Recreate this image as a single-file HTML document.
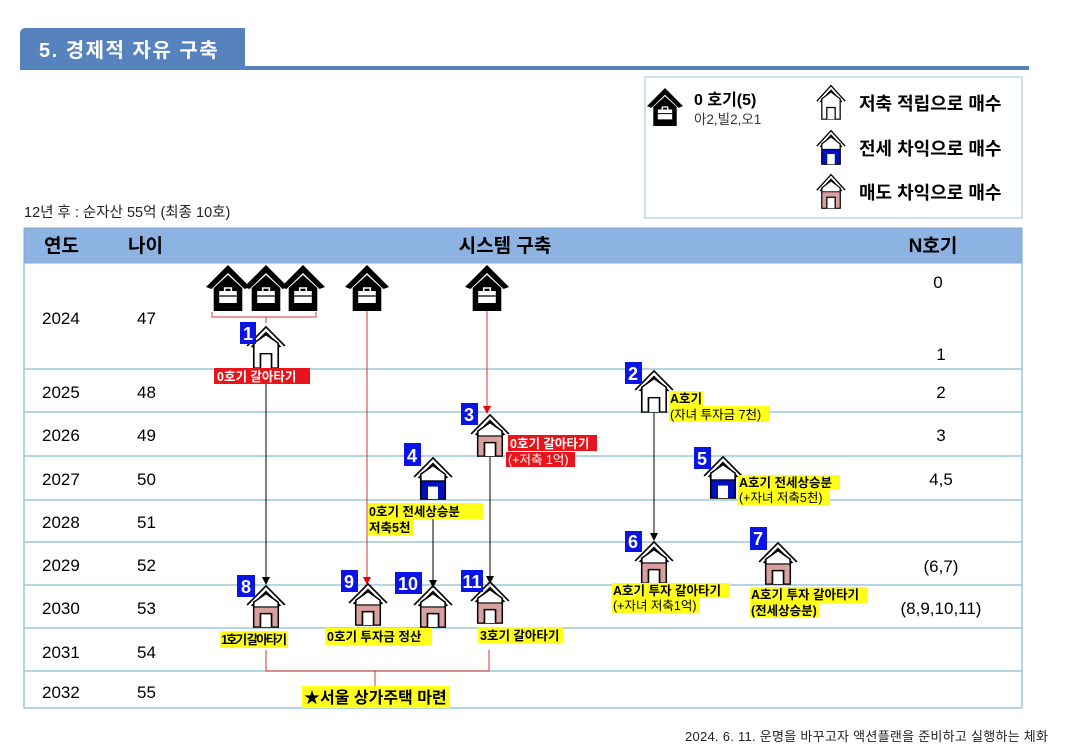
<!DOCTYPE html>
<html><head><meta charset="utf-8"><style>
body{margin:0;background:#fff}
svg{display:block}
text{font-family:"Liberation Sans","Noto Sans CJK KR",sans-serif}
.b{font-weight:bold}
</style></head><body>
<svg width="1067" height="754" viewBox="0 0 1067 754" xmlns="http://www.w3.org/2000/svg">
<defs>
<symbol id="hw" viewBox="0 0 36 46" preserveAspectRatio="none"><polyline points="1,22 18,2 35,22" fill="none" stroke="#000" stroke-width="1.6"/><polyline points="5,23 18,8 31,23" fill="none" stroke="#000" stroke-width="1.6"/><path d="M7,19 L18,10 L29,19 V45 H7 Z" fill="#fff" stroke="#000" stroke-width="1.5"/><path d="M13,45 V30 H23 V45" fill="#fff" stroke="#000" stroke-width="1.5"/></symbol>
<symbol id="hb" viewBox="0 0 36 46" preserveAspectRatio="none"><polyline points="1,22 18,2 35,22" fill="none" stroke="#000" stroke-width="1.6"/><polyline points="5,23 18,8 31,23" fill="none" stroke="#000" stroke-width="1.6"/><path d="M7,19 L18,10 L29,19 V45 H7 Z" fill="#fff" stroke="#000" stroke-width="1.5"/><rect x="7" y="26" width="22" height="19" fill="#0010c0" stroke="#000" stroke-width="1.2"/><rect x="13.5" y="32" width="9" height="13" fill="#fff"/></symbol>
<symbol id="hp" viewBox="0 0 36 46" preserveAspectRatio="none"><polyline points="1,22 18,2 35,22" fill="none" stroke="#000" stroke-width="1.6"/><polyline points="5,23 18,8 31,23" fill="none" stroke="#000" stroke-width="1.6"/><path d="M7,19 L18,10 L29,19 V45 H7 Z" fill="#fff" stroke="#000" stroke-width="1.5"/><rect x="7" y="24" width="22" height="21" fill="#d9a0a0" stroke="#000" stroke-width="1.2"/><path d="M13,45 V31 H23 V45" fill="#fff" stroke="#000" stroke-width="1.5"/></symbol>
<symbol id="hk" viewBox="0 0 40 46" preserveAspectRatio="none"><polygon points="0,22 20,0 40,22 35,24 20,8 5,24" fill="#000"/><polygon points="7,23 20,10 33,23 33,46 7,46" fill="#000"/><rect x="12" y="26" width="16" height="12" fill="#fff"/><rect x="17" y="23" width="6" height="4" fill="none" stroke="#fff" stroke-width="1.5"/><line x1="12" y1="31" x2="28" y2="31" stroke="#000" stroke-width="1.2"/></symbol>
<marker id="ak" markerWidth="8" markerHeight="8" refX="6" refY="4" orient="auto"><path d="M0,0 L8,4 L0,8 Z" fill="#000"/></marker>
<marker id="ar" markerWidth="8" markerHeight="8" refX="6" refY="4" orient="auto"><path d="M0,0 L8,4 L0,8 Z" fill="#e00"/></marker>
</defs>

<!-- title -->
<path d="M20,34 Q20,28 26,28 H245 V70 H20 Z" fill="#5683bd"/>
<rect x="20" y="66" width="1009" height="4" fill="#5683bd"/>
<text x="39" y="57" font-size="20" class="b" fill="#fff" letter-spacing="1.5">5.  경제적 자유 구축</text>

<!-- legend -->
<rect x="645" y="77" width="377" height="141" fill="#fff" stroke="#a9cfe0" stroke-width="1.2"/>
<use href="#hk" x="647" y="88" width="36" height="38"/>
<text x="694" y="105" font-size="16" class="b">0 호기(5)</text>
<text x="694" y="124" font-size="13.5" fill="#333">아2,빌2,오1</text>
<use href="#hw" x="816" y="84" width="30" height="36"/>
<text x="859" y="110" font-size="18" class="b">저축 적립으로 매수</text>
<use href="#hb" x="816" y="129" width="30" height="36"/>
<text x="859" y="155" font-size="18" class="b">전세 차익으로 매수</text>
<use href="#hp" x="816" y="173" width="30" height="36"/>
<text x="859" y="199" font-size="18" class="b">매도 차익으로 매수</text>

<text x="24" y="217" font-size="14.5" fill="#222">12년 후 : 순자산 55억 (최종 10호)</text>

<!-- table -->
<rect x="24" y="228" width="998" height="35" fill="#8db3e2" stroke="#7fa8d0"/>
<g stroke="#9cc8dc" stroke-width="1.5">
<line x1="24" y1="369" x2="1022" y2="369"/><line x1="24" y1="412" x2="1022" y2="412"/>
<line x1="24" y1="456" x2="1022" y2="456"/><line x1="24" y1="500" x2="1022" y2="500"/>
<line x1="24" y1="542" x2="1022" y2="542"/><line x1="24" y1="585" x2="1022" y2="585"/>
<line x1="24" y1="628" x2="1022" y2="628"/><line x1="24" y1="671" x2="1022" y2="671"/>
<line x1="24" y1="708" x2="1022" y2="708"/>
<line x1="24" y1="263" x2="24" y2="708"/><line x1="1022" y1="263" x2="1022" y2="708"/>
</g>
<g font-size="19" class="b">
<text x="44" y="252">연도</text><text x="128" y="252">나이</text>
<text x="505" y="252" text-anchor="middle">시스템 구축</text><text x="933" y="252" text-anchor="middle">N호기</text>
</g>
<g font-size="17">
<text x="42" y="324">2024</text><text x="137" y="324">47</text>
<text x="42" y="398">2025</text><text x="137" y="398">48</text>
<text x="42" y="441">2026</text><text x="137" y="441">49</text>
<text x="42" y="485">2027</text><text x="137" y="485">50</text>
<text x="42" y="528">2028</text><text x="137" y="528">51</text>
<text x="42" y="571">2029</text><text x="137" y="571">52</text>
<text x="42" y="614">2030</text><text x="137" y="614">53</text>
<text x="42" y="658">2031</text><text x="137" y="658">54</text>
<text x="42" y="698">2032</text><text x="137" y="698">55</text>
</g>
<g font-size="17" text-anchor="middle">
<text x="938" y="288">0</text><text x="941" y="360">1</text><text x="941" y="398">2</text>
<text x="941" y="441">3</text><text x="941" y="485">4,5</text><text x="941" y="572">(6,7)</text>
<text x="941" y="614">(8,9,10,11)</text>
</g>

<!-- connectors -->
<path d="M212,312 V317 H316 V312 M266,317 V323" fill="none" stroke="#d33" stroke-width="1"/>
<line x1="266" y1="384" x2="266" y2="583" stroke="#000" marker-end="url(#ak)"/>
<line x1="367" y1="308" x2="367" y2="583" stroke="#d33" marker-end="url(#ar)"/>
<line x1="487" y1="308" x2="487" y2="412" stroke="#d33" marker-end="url(#ar)"/>
<line x1="433" y1="518" x2="433" y2="586" stroke="#000" marker-end="url(#ak)"/>
<line x1="490" y1="457" x2="490" y2="582" stroke="#000" marker-end="url(#ak)"/>
<line x1="654" y1="412" x2="654" y2="539" stroke="#000" marker-end="url(#ak)"/>
<path d="M266,650 V671 H489 V650 M375,671 V686" fill="none" stroke="#d33" stroke-width="1"/>

<!-- black houses -->
<use href="#hk" x="206" y="265" width="44" height="46"/>
<use href="#hk" x="244" y="265" width="44" height="46"/>
<use href="#hk" x="281" y="265" width="44" height="46"/>
<use href="#hk" x="345" y="265" width="44" height="46"/>
<use href="#hk" x="465" y="265" width="44" height="46"/>

<!-- houses -->
<use href="#hw" x="246" y="325" width="40" height="44"/>
<use href="#hw" x="634" y="369" width="40" height="44"/>
<use href="#hp" x="470" y="413" width="40" height="44"/>
<use href="#hb" x="413" y="456" width="40" height="44"/>
<use href="#hb" x="703" y="455" width="40" height="44"/>
<use href="#hp" x="634" y="540" width="40" height="44"/>
<use href="#hp" x="758" y="541" width="40" height="44"/>
<use href="#hp" x="246" y="584" width="40" height="44"/>
<use href="#hp" x="348" y="582" width="40" height="44"/>
<use href="#hp" x="413" y="584" width="40" height="44"/>
<use href="#hp" x="470" y="580" width="40" height="44"/>

<!-- badges -->
<g fill="#0a14e6">
<rect x="240" y="322" width="16" height="22"/><rect x="625" y="362" width="17" height="22"/>
<rect x="461" y="403" width="17" height="22"/><rect x="404" y="443" width="17" height="23"/>
<rect x="694" y="447" width="17" height="22"/><rect x="625" y="531" width="17" height="21"/>
<rect x="750" y="527" width="17" height="23"/><rect x="237" y="575" width="18" height="22"/>
<rect x="341" y="570" width="17" height="22"/><rect x="395" y="572" width="27" height="22"/>
<rect x="461" y="570" width="22" height="22"/>
</g>
<g fill="#fff" font-size="18" class="b" text-anchor="middle">
<text x="248" y="340">1</text><text x="633" y="380">2</text><text x="469" y="421">3</text>
<text x="412" y="462">4</text><text x="702" y="465">5</text><text x="633" y="548">6</text>
<text x="758" y="545">7</text><text x="246" y="593">8</text><text x="349" y="588">9</text>
<text x="408" y="590">10</text><text x="472" y="588">11</text>
</g>

<!-- labels -->
<g font-size="12.5" class="b">
<rect x="214" y="368" width="96" height="16" fill="#e8141c"/><text x="217" y="381" fill="#fff">0호기 갈아타기</text>
<rect x="508" y="435" width="89" height="16" fill="#e8141c"/><text x="510" y="448" fill="#fff">0호기 갈아타기</text>
<rect x="506" y="452" width="69" height="15" fill="#e8141c"/><text x="508" y="464" fill="#fff" font-weight="normal">(+저축 1억)</text>
<rect x="669" y="391" width="34" height="15" fill="#ffff1a"/><text x="670" y="403">A호기</text>
<rect x="669" y="406" width="101" height="16" fill="#ffff1a"/><text x="670" y="419" font-weight="normal">(자녀 투자금 7천)</text>
<rect x="368" y="503" width="115" height="16" fill="#ffff1a"/><text x="369" y="516">0호기 전세상승분</text>
<rect x="368" y="519" width="45" height="16" fill="#ffff1a"/><text x="369" y="532">저축5천</text>
<rect x="738" y="475" width="102" height="15" fill="#ffff1a"/><text x="739" y="487">A호기 전세상승분</text>
<rect x="738" y="490" width="92" height="15" fill="#ffff1a"/><text x="739" y="502" font-weight="normal">(+자녀 저축5천)</text>
<rect x="612" y="583" width="118" height="15" fill="#ffff1a"/><text x="613" y="595">A호기 투자 갈아타기</text>
<rect x="612" y="598" width="88" height="15" fill="#ffff1a"/><text x="613" y="610" font-weight="normal">(+자녀 저축1억)</text>
<rect x="750" y="587" width="118" height="16" fill="#ffff1a"/><text x="751" y="599">A호기 투자 갈아타기</text>
<rect x="750" y="603" width="70" height="15" fill="#ffff1a"/><text x="751" y="615">(전세상승분)</text>
<rect x="220" y="631" width="68" height="17" fill="#ffff1a"/><text x="221" y="644" textLength="66">1호기 갈아타기</text>
<rect x="325" y="628" width="107" height="17" fill="#ffff1a"/><text x="327" y="641">0호기 투자금 정산</text>
<rect x="478" y="627" width="85" height="16" fill="#ffff1a"/><text x="480" y="640">3호기 갈아타기</text>
<rect x="302" y="686" width="148" height="22" fill="#ffff1a"/><text x="304" y="703" font-size="16">★서울 상가주택 마련</text>
</g>

<text x="1048" y="741" font-size="13" text-anchor="end" fill="#222" textLength="363">2024. 6. 11. 운명을 바꾸고자 액션플랜을 준비하고 실행하는 체화</text>
</svg>
</body></html>
